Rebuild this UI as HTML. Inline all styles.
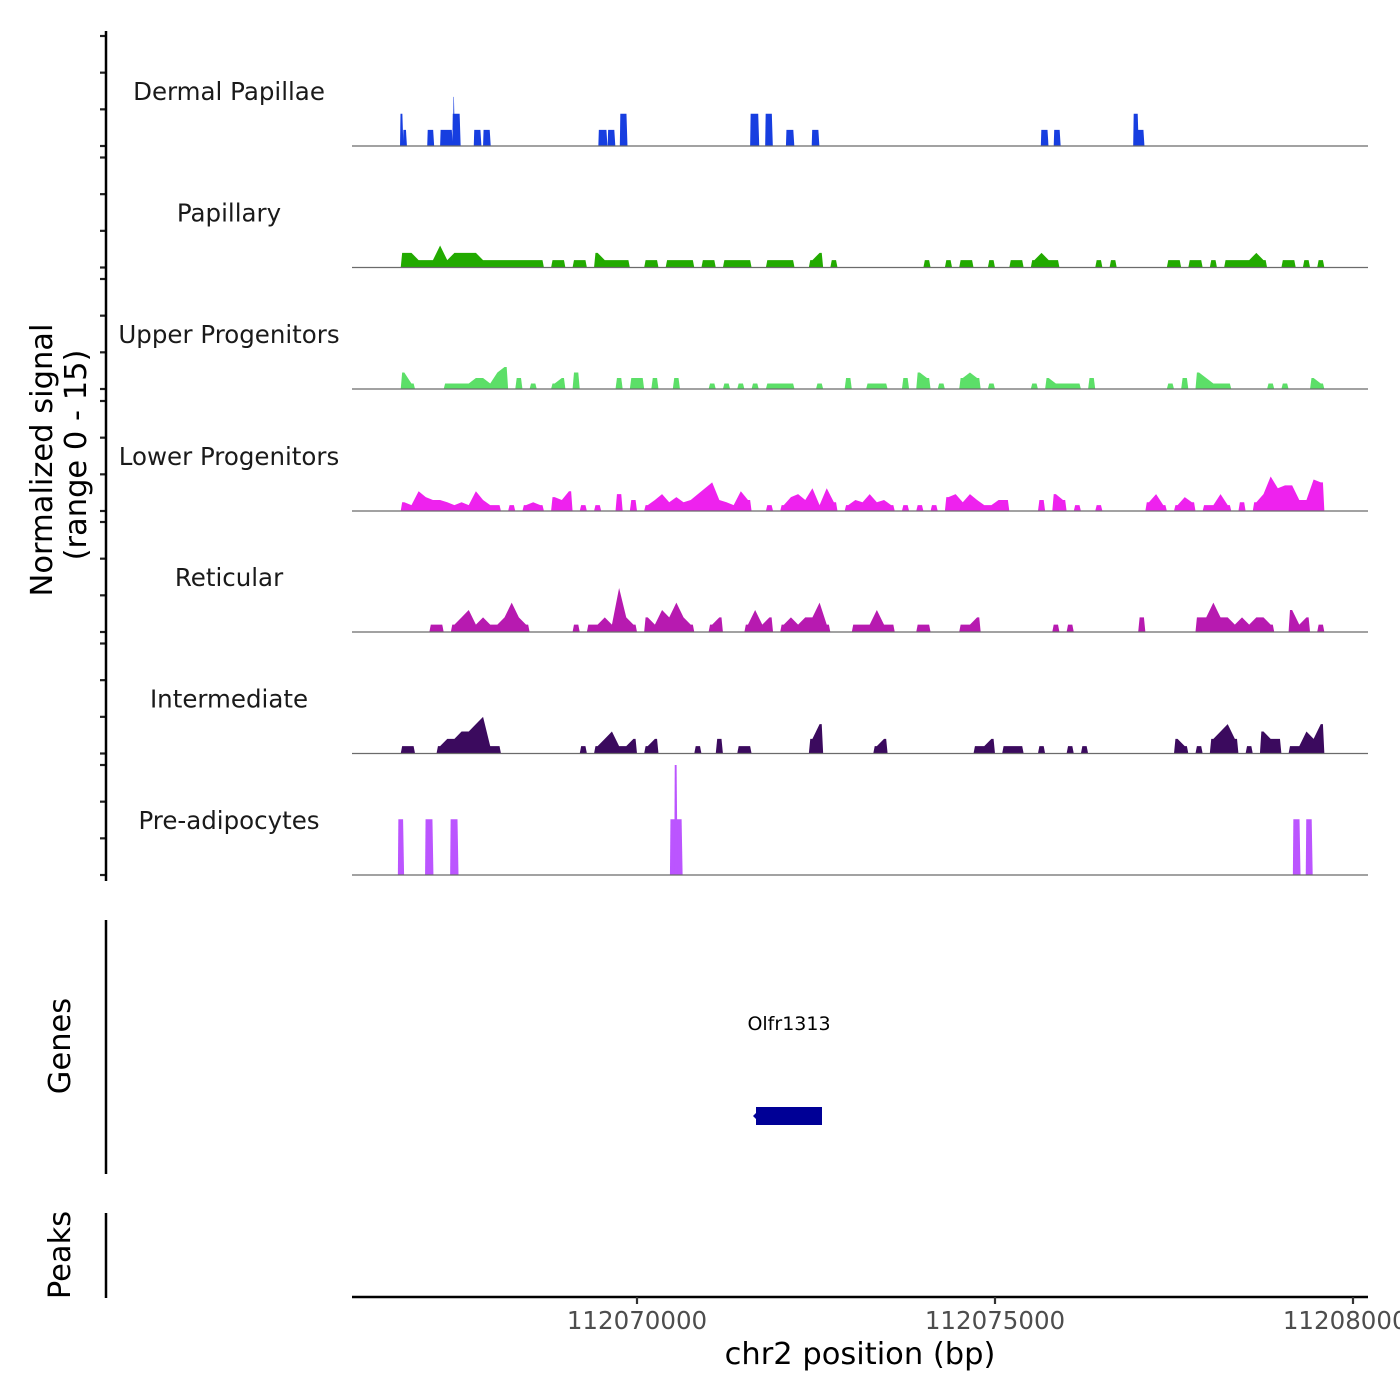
<!DOCTYPE html>
<html><head><meta charset="utf-8"><style>
html,body{margin:0;padding:0;background:#fff;overflow:hidden}
svg{display:block;font-family:"DejaVu Sans","Liberation Sans",sans-serif}
</style></head><body>
<svg id="chart" width="1400" height="1400" viewBox="0 0 1400 1400" xmlns="http://www.w3.org/2000/svg">
<g id="tracks"></g>
<g id="axes"></g>
</svg>
<script>
// ---- data ----
const trackNames = ["Dermal Papillae","Papillary","Upper Progenitors","Lower Progenitors","Reticular","Intermediate","Pre-adipocytes"];
const trackColors = ["#173ee0","#22aa00","#5cdf68","#ee22ee","#b71ab0","#3b0a5e","#bb55ff"];
const binStartKb = 66.70;
const binWidthKb = 0.1;
// sparse tracks: [startKb, endKb, value]
const dermalPeaks = [[66.69,66.73,4.4],[66.73,66.78,2.2],[67.07,67.16,2.2],[67.25,67.42,2.2],[67.42,67.53,4.4],[67.43,67.45,6.7],[67.72,67.82,2.2],[67.85,67.95,2.2],[69.46,69.58,2.2],[69.59,69.69,2.2],[69.76,69.86,4.4],[71.58,71.70,4.4],[71.79,71.89,4.4],[72.08,72.19,2.2],[72.44,72.54,2.2],[75.64,75.74,2.2],[75.82,75.91,2.2],[76.93,77.00,4.4],[76.97,77.08,2.2]];
const preadipoPeaks = [[66.66,66.74,7.6],[67.04,67.15,7.6],[67.39,67.50,7.6],[70.46,70.63,7.6],[70.52,70.56,15],[79.16,79.26,7.6],[79.34,79.43,7.6]];
// dense tracks: values per 100bp bin
const papillaryVals = [2,2,1,1,1,3,1,2,2,2,2,1,1,1,1,1,1,1,1,1,0,1,1,0,1,1,0,2,1,1,1,1,0,0,1,1,0,1,1,1,1,0,1,1,0,1,1,1,1,0,0,1,1,1,1,0,0,1,2,0,1,0,0,0,0,0,0,0,0,0,0,0,0,1,0,0,1,0,1,1,0,0,1,0,0,1,1,0,1,2,1,1,0,0,0,0,0,1,0,1,0,0,0,0,0,0,0,1,1,0,1,1,0,1,0,1,1,1,1,2,1,0,0,1,1,0,1,0,1,0];
const upperVals = [2.25,0.75,0,0,0,0,0.75,0.75,0.75,0.75,1.5,1.5,0.75,2.25,3,0,1.5,0,0.75,0,0,0.75,1.5,0,2.25,0,0,0,0,0,1.5,0,1.5,1.5,0,1.5,0,0,1.5,0,0,0,0,0.75,0,0.75,0,0.75,0,0.75,0,0.75,0.75,0.75,0.75,0,0,0,0.75,0,0,0,1.5,0,0,0.75,0.75,0.75,0,0,1.5,0,2.25,1.5,0,0.75,0,0,1.5,2.25,1.5,0,0.75,0,0,0,0,0,0.75,0,1.5,0.75,0.75,0.75,0.75,0,1.5,0,0,0,0,0,0,0,0,0,0,0.75,0,1.5,0,2.25,1.5,0.75,0.75,0.75,0,0,0,0,0,0.75,0,0.75,0,0,0,1.5,0.75,0];
const lowerVals = [1.2,0.8,2.7,1.9,1.5,1.5,1.2,0.8,1.2,0.8,2.7,1.5,0.8,0.8,0,0.8,0,0.8,1.2,0.8,0,1.9,1.5,2.7,0,0.8,0,0.8,0,0,2.3,0,1.5,0,0.8,1.5,2.3,1.2,1.9,1.2,1.5,2.3,3.1,3.9,1.5,1.2,0.8,2.7,1.5,0,0,0.8,0,0.8,1.9,2.3,1.5,3.1,0.8,3.1,1.2,0,0.8,1.5,1.2,2.3,1.2,1.5,0.8,0,0.8,0,0.8,0,0.8,0,1.9,2.3,1.2,2.3,1.5,0.8,0.8,1.5,1.5,0,0,0,0,1.5,0,2.3,1.5,0,0.8,0,0,0.8,0,0,0,0,0,0,1.2,2.3,0.8,0,0.8,1.9,1.2,0,0.8,0.8,2.3,0.8,0,1.2,0,1.2,2.3,4.7,3.1,3.5,3.5,1.5,1.5,4.3,3.9,0];
const reticularVals = [0,0,0,0,1,1,0,1,2,3,1,2,1,1,2,4,2,1,0,0,0,0,0,0,1,0,1,1,2,1,6,2,1,0,2,1,3,2,4,2,1,0,0,1,2,0,0,0,1,3,1,2,0,1,2,1,2,2,4,1,0,0,0,1,1,1,3,1,1,0,0,0,1,1,0,0,0,0,1,1,2,0,0,0,0,0,0,0,0,0,0,1,0,1,0,0,0,0,0,0,0,0,0,2,0,0,0,0,0,0,0,2,2,4,2,2,1,2,1,2,2,1,0,0,3,1,2,0,1,0];
const intermediateVals = [1,1,0,0,0,1,2,2,3,3,4,5,1,1,0,0,0,0,0,0,0,0,0,0,0,1,0,1,2,3,1,1,2,0,1,2,0,0,0,0,0,1,0,0,2,0,0,1,1,0,0,0,0,0,0,0,0,2,4,0,0,0,0,0,0,0,1,2,0,0,0,0,0,0,0,0,0,0,0,0,1,1,2,0,1,1,1,0,0,1,0,0,0,1,0,1,0,0,0,0,0,0,0,0,0,0,0,0,2,1,0,1,0,2,3,4,2,0,1,0,3,2,2,0,1,1,3,2,4,0];
const xTickValues = [112070000,112075000,112080000];
const xTickLabels = ["112070000","112075000","112080000"];
const yTickValues = [0,5,10,15];

// ---- scales ----
const NS="http://www.w3.org/2000/svg";
const X0=352, X1=1368;
function xKb(kb){return 637+(kb-70)*71.6;}
function xBp(bp){return xKb((bp-112000000)/1000);}
const baselines=[146,267.5,389,511,632,753.5,875];
const pxPerUnit=110/15;
function yv(track,v){return baselines[track]-v*pxPerUnit;}
function mk(tag,attrs,parent){const e=document.createElementNS(NS,tag);for(const k in attrs)e.setAttribute(k,attrs[k]);parent.appendChild(e);return e;}
const tracksG=document.getElementById('tracks');
const axesG=document.getElementById('axes');

function drawPeaks(t,peaks){
  peaks.forEach(p=>{
    const xa=xKb(p[0]), xb=xKb(p[1]), y=yv(t,p[2]), b=baselines[t];
    const poly=mk('polygon',{points:`${xa},${b} ${xa+0.5},${y} ${xb-0.5},${y} ${xb+0.5},${b}`,fill:trackColors[t]},tracksG);
    
    
  });
}
function drawBins(t,vals){
  let i=0;
  while(i<vals.length){
    if(vals[i]<=0){i++;continue;}
    let j=i;while(j<vals.length&&vals[j]>0)j++;
    const b=baselines[t];
    let pts=[`${xKb(binStartKb+i*binWidthKb)},${b}`];
    pts.push(`${xKb(binStartKb+(i+0.2)*binWidthKb)},${yv(t,vals[i])}`);
    for(let k=i;k<j;k++){pts.push(`${xKb(binStartKb+(k+0.5)*binWidthKb)},${yv(t,vals[k])}`);}
    pts.push(`${xKb(binStartKb+(j-0.2)*binWidthKb)},${yv(t,vals[j-1])}`);
    pts.push(`${xKb(binStartKb+j*binWidthKb)},${b}`);
    const poly=mk('polygon',{points:pts.join(' '),fill:trackColors[t]},tracksG);
    
    
    i=j;
  }
}
const denseData=[null,papillaryVals,upperVals,lowerVals,reticularVals,intermediateVals,null];
trackNames.forEach((name,t)=>{
  if(t===0)drawPeaks(0,dermalPeaks);
  else if(t===6)drawPeaks(6,preadipoPeaks);
  else drawBins(t,denseData[t]);
  const base=mk('line',{x1:X0,x2:X1,y1:baselines[t],y2:baselines[t],stroke:'#6b6b6b','stroke-width':1.2},tracksG);
  
  
  const lab=mk('text',{x:229,y:baselines[t]-46,'text-anchor':'middle','font-size':24.5,fill:'#1a1a1a'},tracksG);
  lab.textContent=name;
  
  
  yTickValues.forEach(v=>{
    const tk=mk('line',{x1:100,x2:106,y1:yv(t,v),y2:yv(t,v),stroke:'#222','stroke-width':2.2},axesG);
    
    
  });
});
// left axis
let l=mk('line',{x1:106,x2:106,y1:31,y2:881,stroke:'#000','stroke-width':2.5},axesG);


let tt=mk('text',{transform:'translate(52,460) rotate(-90)','text-anchor':'middle','font-size':30.5,fill:'#000'},axesG);
tt.textContent='Normalized signal';


tt=mk('text',{transform:'translate(86,455) rotate(-90)','text-anchor':'middle','font-size':30.5,fill:'#000'},axesG);
tt.textContent='(range 0 - 15)';


// genes
l=mk('line',{x1:106,x2:106,y1:920,y2:1174,stroke:'#000','stroke-width':2.5},axesG);


tt=mk('text',{transform:'translate(70,1046) rotate(-90)','text-anchor':'middle','font-size':30.5,fill:'#000'},axesG);
tt.textContent='Genes';


const gene=mk('rect',{x:756,y:1107,width:66,height:18,fill:'#000096'},axesG);


const arr=mk('polygon',{points:'753,1116 757,1112 757,1120',fill:'#000096'},axesG);


tt=mk('text',{x:789,y:1030,'text-anchor':'middle','font-size':19,fill:'#000'},axesG);
tt.textContent='Olfr1313';


// peaks
l=mk('line',{x1:106,x2:106,y1:1213,y2:1298,stroke:'#000','stroke-width':2.5},axesG);


tt=mk('text',{transform:'translate(70,1255) rotate(-90)','text-anchor':'middle','font-size':30.5,fill:'#000'},axesG);
tt.textContent='Peaks';


// x axis
l=mk('line',{x1:X0,x2:X1,y1:1297,y2:1297,stroke:'#000','stroke-width':2.5},axesG);


xTickValues.forEach((v,i)=>{
  const x=xBp(v);
  const tk=mk('line',{x1:x,x2:x,y1:1297,y2:1304,stroke:'#333','stroke-width':2.2},axesG);
  
  
  const tl=mk('text',{x:x,y:1329,'text-anchor':'middle','font-size':24.5,fill:'#4d4d4d'},axesG);
  tl.textContent=xTickLabels[i];
  
  
});
tt=mk('text',{x:860,y:1364,'text-anchor':'middle','font-size':30.5,fill:'#000'},axesG);
tt.textContent='chr2 position (bp)';


</script>
</body></html>
